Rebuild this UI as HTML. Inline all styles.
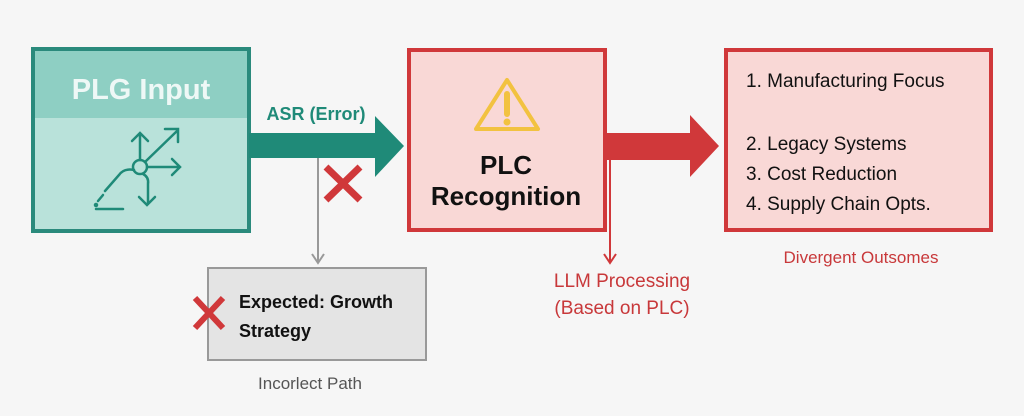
<!DOCTYPE html>
<html><head><style>
body{margin:0;width:1024px;height:416px;background:#f6f6f6;font-family:"Liberation Sans",sans-serif;position:relative;overflow:hidden}
.a{position:absolute}
</style></head><body>
<svg class="a" style="left:0;top:0" width="1024" height="416">
<!-- PLG box -->
<rect x="33" y="49" width="216" height="182" fill="#b9e2da" stroke="#2a8a7c" stroke-width="4"/>
<rect x="35" y="51" width="212" height="67" fill="#8ecfc3"/>
<text x="141" y="99" text-anchor="middle" font-family="Liberation Sans" font-weight="bold" font-size="29" fill="#eef8f6">PLG Input</text>
<g stroke="#1f8a78" stroke-width="2.5" fill="none" stroke-linecap="round">
<circle cx="140" cy="167" r="7"/>
<path d="M140 160V134M132 141l8-8 8 8"/>
<path d="M145 162L177 131M165 129h13v13"/>
<path d="M147 167h33M172 159l8 8-8 8"/>
<path d="M143 174q6 3 5 10v20M139 197l8 8 8-8"/>
<path d="M134 170q-10 -2 -15 5l-14 16"/>
<path d="M103 195l-5 6"/><circle cx="96" cy="205" r="1" fill="#1f8a78"/>
<path d="M96 209h27"/>
</g>
<!-- teal arrow -->
<path d="M249 133H375V116L404 146L375 177V158H249Z" fill="#1f8a78"/>
<text x="316" y="120" text-anchor="middle" font-weight="bold" font-size="18" fill="#1f8a78" font-family="Liberation Sans">ASR (Error)</text>
<path d="M326 167L360 200M360 167L326 200" stroke="#d0383a" stroke-width="7"/>
<line x1="318" y1="158" x2="318" y2="262" stroke="#999" stroke-width="2"/>
<path d="M312 254l6 9 6-9" fill="none" stroke="#999" stroke-width="2"/>
<!-- gray box -->
<rect x="208" y="268" width="218" height="92" fill="#e4e4e4" stroke="#999" stroke-width="2"/>
<path d="M195 298L223 328M223 298L195 328" stroke="#d0383a" stroke-width="6"/>
<text x="239" y="308" font-weight="bold" font-size="18" fill="#111" font-family="Liberation Sans">Expected: Growth</text>
<text x="239" y="337" font-weight="bold" font-size="18" fill="#111" font-family="Liberation Sans">Strategy</text>
<text x="310" y="389" text-anchor="middle" font-size="17" fill="#555" font-family="Liberation Sans">Incorlect Path</text>
<!-- PLC box -->
<rect x="409" y="50" width="196" height="180" fill="#f9d8d6" stroke="#d0383a" stroke-width="4"/>
<path d="M507 80L538 129H476Z" fill="none" stroke="#f2c240" stroke-width="4" stroke-linejoin="round"/>
<path d="M507 94v20" stroke="#f2c240" stroke-width="6" stroke-linecap="round"/>
<circle cx="507" cy="122" r="3.5" fill="#f2c240"/>
<text x="506" y="174" text-anchor="middle" font-weight="bold" font-size="26" fill="#111" font-family="Liberation Sans">PLC</text>
<text x="506" y="205" text-anchor="middle" font-weight="bold" font-size="26" fill="#111" font-family="Liberation Sans">Recognition</text>
<!-- red arrow -->
<path d="M605 133H690V115L719 146L690 177V160H605Z" fill="#d0383a"/>
<line x1="610" y1="160" x2="610" y2="262" stroke="#d0383a" stroke-width="2"/>
<path d="M604 254l6 9 6-9" fill="none" stroke="#d0383a" stroke-width="2"/>
<text x="622" y="287" text-anchor="middle" font-size="19" fill="#c8383a" font-family="Liberation Sans">LLM Processing</text>
<text x="622" y="314" text-anchor="middle" font-size="19" fill="#c8383a" font-family="Liberation Sans">(Based on PLC)</text>
<!-- right box -->
<rect x="726" y="50" width="265" height="180" fill="#f9d8d6" stroke="#d0383a" stroke-width="4"/>
<g font-size="19" fill="#111" font-family="Liberation Sans">
<text x="746" y="87">1. Manufacturing Focus</text>
<text x="746" y="150">2. Legacy Systems</text>
<text x="746" y="180">3. Cost Reduction</text>
<text x="746" y="210">4. Supply Chain Opts.</text>
</g>
<text x="861" y="263" text-anchor="middle" font-size="17" fill="#c8383a" font-family="Liberation Sans">Divergent Outsomes</text>
</svg>
</body></html>
